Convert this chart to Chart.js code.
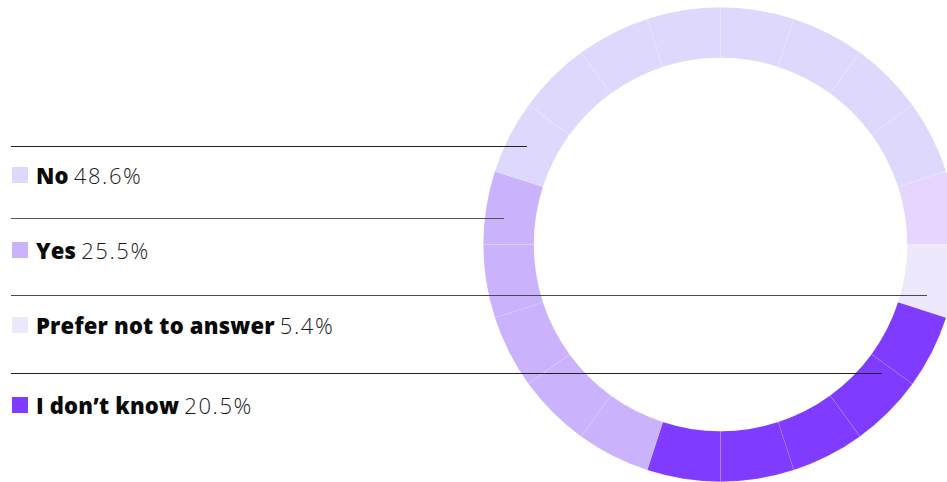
<!DOCTYPE html>
<html>
<head>
<meta charset="utf-8">
<script src="https://cdn.jsdelivr.net/npm/chart.js@4.4.1/dist/chart.umd.min.js"></script>
<style>
  html, body { margin: 0; padding: 0; background: #fff; }
  body { width: 947px; height: 482px; position: relative; overflow: hidden; font-family: "Open Sans", Inter, sans-serif; }
  #ring { position: absolute; left: 483px; top: 7px; width: 475px; height: 475px; }
  .rule { position: absolute; left: 11px; height: 0; border-top: 1px solid #333; z-index: 2; }
  .item { position: absolute; left: 12px; height: 24px; display: flex; align-items: center; font-size: 22px; color: #0a0a0a; white-space: nowrap; z-index: 2; }
  .item .sw { width: 16px; height: 16px; margin-right: 8px; }
  .item b { font-weight: 800; margin-right: 5px; letter-spacing: 0.2px; }
  .item span.v { font-weight: 300; letter-spacing: 1.6px; color: #1a1a1a; }
</style>
</head>
<body>
<div id="ring"><canvas id="myChart"></canvas></div>
<div id="legend"></div>
<script>
const categories = ["No", "Yes", "Prefer not to answer", "I don\u2019t know"];
const shares = [48.6, 25.5, 5.4, 20.5];
const catColors = ["#dfd8fd", "#cbb2fd", "#ede8fc", "#7f3bff"];

// ring as drawn: 20 equal blocks, clockwise from 3 o'clock
const ringBlocks = [2, 3, 3, 3, 3, 3, 1, 1, 1, 1, 1, 0, 0, 0, 0, 0, 0, 0, 0, 4];
const extraColor = "#e6d5fe";

const ruleTops = [146, 218, 295, 373];
const ruleWidths = [516, 493, 916, 871];
const ruleColors = ["#222", "#555", "#4a4a4a", "#222"];
const itemTops = [163, 238, 313, 393];

const legend = document.getElementById("legend");
for (let i = 0; i < categories.length; i++) {
  const r = document.createElement("div");
  r.className = "rule";
  r.style.top = ruleTops[i] + "px";
  r.style.width = ruleWidths[i] + "px";
  r.style.borderTopColor = ruleColors[i];
  legend.appendChild(r);

  const it = document.createElement("div");
  it.className = "item";
  it.style.top = itemTops[i] + "px";
  it.innerHTML = `<div class="sw" style="background:${catColors[i]}"></div><b>${categories[i]}</b><span class="v">${shares[i]}%</span>`;
  legend.appendChild(it);
}

new Chart("myChart", {
  type: "doughnut",
  data: {
    labels: ringBlocks.map((b) => categories[b] || ""),
    datasets: [{
      data: ringBlocks.map(() => 1),
      backgroundColor: ringBlocks.map((b) => catColors[b] || extraColor),
      borderColor: "rgba(255,255,255,0.18)",
      borderWidth: 0.6
    }]
  },
  options: {
    responsive: true,
    maintainAspectRatio: false,
    animation: false,
    rotation: 90,
    cutout: "78.7%",
    layout: { padding: 0 },
    plugins: { legend: { display: false }, tooltip: { enabled: false } }
  }
});
</script>
</body>
</html>
